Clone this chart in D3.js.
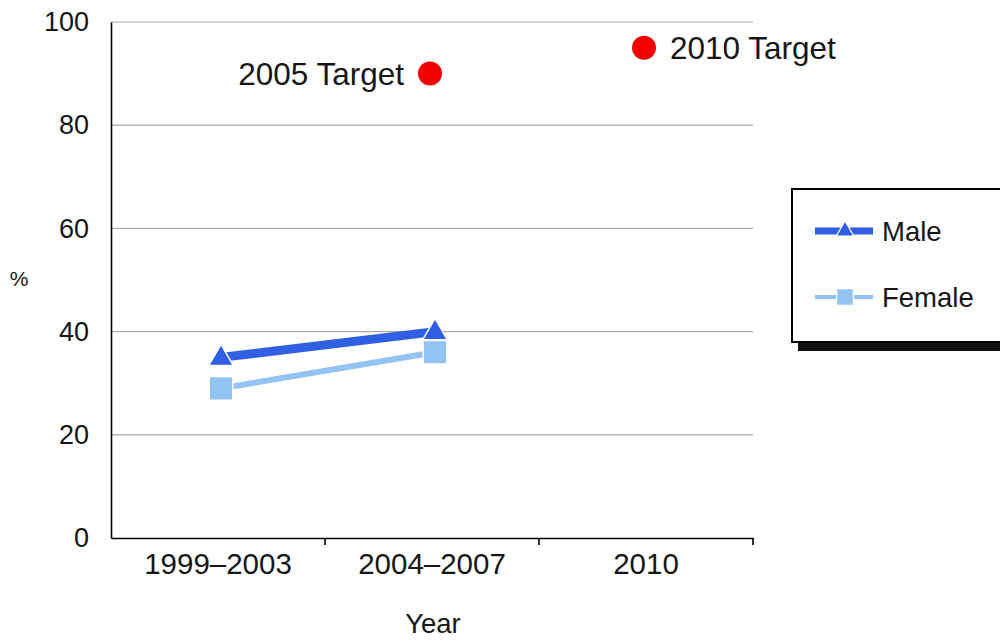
<!DOCTYPE html>
<html>
<head>
<meta charset="utf-8">
<script src="https://cdn.jsdelivr.net/npm/d3@7"></script>
<style>
  html, body { margin: 0; padding: 0; background: #fff; }
  svg { display: block; font-family: "Liberation Sans", Arial, sans-serif; }
</style>
</head>
<body>
<svg id="chart" width="1000" height="641"></svg>
<script>
// ---- data ----
const categories = ["1999–2003", "2004–2007", "2010"];
const seriesNames = ["Male", "Female"];
const maleValues = [35, 40, null];
const femaleValues = [29, 36, null];
const targetLabels = ["2005 Target", "2010 Target"];
const targetCategories = ["2004–2007", "2010"];
const targetValues = [90, 95];
const yTicks = [0, 20, 40, 60, 80, 100];

// ---- layout ----
const svg = d3.select("#chart");
const plotLeft = 111, plotRight = 753, plotTop = 22, plotBottom = 538;

const x = d3.scaleBand().domain(categories).range([plotLeft, plotRight]).padding(0);
const y = d3.scaleLinear().domain([0, 100]).range([plotBottom, plotTop]);
const cx = c => x(c) + x.bandwidth() / 2;
const markerShift = 3;

const maleColor = "#2f5fe3";
const femaleColor = "#93c3f2";
const textColor = "#161616";

// gridlines
svg.append("g")
  .selectAll("line")
  .data(yTicks.filter(d => d > 0))
  .join("line")
  .attr("x1", plotLeft).attr("x2", plotRight)
  .attr("y1", d => y(d)).attr("y2", d => y(d))
  .attr("stroke", "#aaaaaa").attr("stroke-width", 1.2);

// y axis
const yAxis = d3.axisLeft(y).tickValues(yTicks).tickSize(0).tickPadding(22);
const gy = svg.append("g").attr("transform", `translate(${plotLeft},0)`).call(yAxis);
gy.select(".domain").attr("stroke", "#000").attr("stroke-width", 1.6);
gy.selectAll("text").attr("font-size", 27).attr("fill", textColor)
  .attr("font-family", "'Liberation Sans', Arial, sans-serif");

// x axis
const xAxis = d3.axisBottom(x).tickSize(0).tickPadding(15);
const gx = svg.append("g").attr("transform", `translate(0,${plotBottom})`).call(xAxis);
gx.select(".domain").attr("stroke", "#000").attr("stroke-width", 1.6);
gx.selectAll("text").attr("font-size", 29.5).attr("fill", textColor)
  .attr("font-family", "'Liberation Sans', Arial, sans-serif");
// band-boundary ticks
gx.append("g").selectAll("line")
  .data(categories)
  .join("line")
  .attr("x1", d => x(d) + x.bandwidth()).attr("x2", d => x(d) + x.bandwidth())
  .attr("y1", 0).attr("y2", 7)
  .attr("stroke", "#000").attr("stroke-width", 1.6);

// axis titles
svg.append("text").attr("x", 19).attr("y", 286).attr("text-anchor", "middle")
  .attr("font-size", 21).attr("fill", textColor).text("%");
svg.append("text").attr("x", 433).attr("y", 633).attr("text-anchor", "middle")
  .attr("font-size", 27.5).attr("fill", textColor).text("Year");

// series lines
const lineGen = d3.line()
  .defined(d => d.v != null)
  .x(d => cx(d.c) + markerShift)
  .y(d => y(d.v));

const seriesData = [
  { name: "Male", values: maleValues, color: maleColor, width: 9, shape: d3.symbolTriangle, size: 260 },
  { name: "Female", values: femaleValues, color: femaleColor, width: 6, shape: d3.symbolSquare, size: 560 }
];

seriesData.forEach(s => {
  const pts = categories.map((c, i) => ({ c, v: s.values[i] }));
  svg.append("path")
    .datum(pts)
    .attr("fill", "none")
    .attr("stroke", s.color)
    .attr("stroke-width", s.width)
    .attr("d", lineGen);
});
seriesData.slice().reverse().forEach(s => {
  const pts = categories.map((c, i) => ({ c, v: s.values[i] })).filter(d => d.v != null);
  svg.append("g").selectAll("path")
    .data(pts)
    .join("path")
    .attr("d", d3.symbol().type(s.shape).size(s.size))
    .attr("transform", d => `translate(${cx(d.c) + markerShift},${y(d.v) + (s.name === "Male" ? 1 : 0)})`)
    .attr("fill", s.color)
    .attr("stroke", "#fff").attr("stroke-width", 1.5);
});

// targets
const targets = targetLabels.map((l, i) => ({ label: l, c: targetCategories[i], v: targetValues[i] }));
svg.append("g").selectAll("circle")
  .data(targets)
  .join("circle")
  .attr("cx", d => cx(d.c) - 2)
  .attr("cy", d => y(d.v))
  .attr("r", 12)
  .attr("fill", "#f20000");
svg.append("g").selectAll("text")
  .data(targets)
  .join("text")
  .attr("x", (d, i) => i === 0 ? cx(d.c) - 28 : cx(d.c) + 24)
  .attr("y", d => y(d.v) + 11)
  .attr("text-anchor", (d, i) => i === 0 ? "end" : "start")
  .attr("font-size", 31.5)
  .attr("fill", textColor)
  .text(d => d.label);

// legend
const lg = svg.append("g");
lg.append("rect").attr("x", 798).attr("y", 196).attr("width", 230).attr("height", 155).attr("fill", "#111");
lg.append("rect").attr("x", 792).attr("y", 189).attr("width", 230).attr("height", 153)
  .attr("fill", "#fff").attr("stroke", "#000").attr("stroke-width", 2);
seriesData.forEach((s, i) => {
  const ly = 231 + i * 66;
  lg.append("line").attr("x1", 815).attr("x2", 873).attr("y1", ly).attr("y2", ly)
    .attr("stroke", s.color).attr("stroke-width", s.width - 2);
  lg.append("path").attr("d", d3.symbol().type(s.shape).size(s.size * 0.5))
    .attr("transform", `translate(845,${ly})`)
    .attr("fill", s.color).attr("stroke", "#fff").attr("stroke-width", 1.2);
  lg.append("text").attr("x", 882).attr("y", ly + 10).attr("font-size", 27.5)
    .attr("fill", textColor).text(s.name);
});
</script>
</body>
</html>
